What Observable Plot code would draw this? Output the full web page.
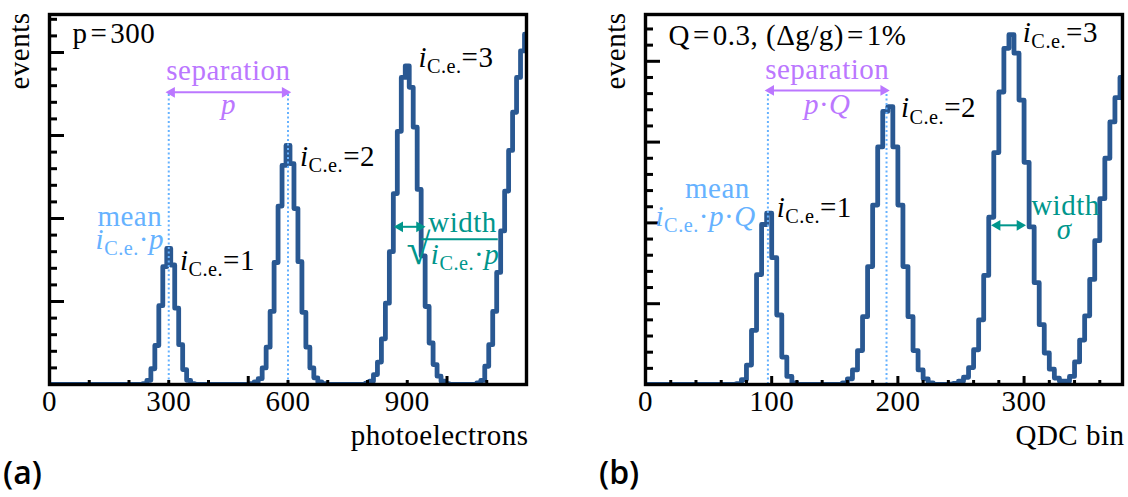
<!DOCTYPE html>
<html><head><meta charset="utf-8">
<script src="https://cdn.jsdelivr.net/npm/d3@7"></script>
<script src="https://cdn.jsdelivr.net/npm/@observablehq/plot@0.6"></script>
<style>
body{margin:0;background:#fff;width:1128px;height:497px;overflow:hidden;position:relative}
#a,#b{position:absolute;top:0;width:564px;height:440px}
#a{left:0}#b{left:596px}
#a svg,#b svg{max-width:none!important;display:block}
.tag{position:absolute;top:451px;font-family:"Open Sans",sans-serif;font-weight:600;font-size:32px;color:#000;line-height:42px}
</style></head><body>
<div id="a"></div><div id="b"></div>
<div class="tag" style="left:3px">(a)</div>
<div class="tag" style="left:599px">(b)</div>
<script>
// ---------------- data: panel (a) photoelectrons, bins of 10, centre = index*10
const binWidthA = 10;
const countsA = [
 0,0,0,0,0,0,0,0,0,0, 0,0,0,0,0,0,0,0,0,0, 0,0,0,0,0.01,0.05,0.19,0.47,0.95,1.42,
 1.64,1.44,0.92,0.48,0.18,0.05,0.01,0,0,0, 0,0,0,0,0,0,0,0,0,0,
 0,0.01,0.03,0.07,0.20,0.45,0.88,1.47,2.15,2.64, 2.88,2.66,2.12,1.48,0.87,0.45,0.20,0.08,0.03,0.01,
 0,0,0,0,0,0,0,0,0,0, 0.015,0.04,0.12,0.27,0.55,0.98,1.60,2.30,3.05,3.70,
 3.84,3.58,3.10,2.35,1.55,0.94,0.50,0.24,0.10,0.04, 0.01,0,0,0,0,0,0,0,0.02,0.05,
 0.22,0.48,0.88,1.35,1.85,2.33,2.82,3.28,3.70,4.02, 4.22
];
const tickLabelsA = [0, 300, 600, 900];
const meansA = [300, 600];
// ---------------- data: panel (b) QDC bins, bins of 4, centre = index*4+2
const binWidthB = 4;
const countsB = [
 0,0,0,0,0,0,0,0,0,0, 0,0,0,0,0,0,0,0,0.01,0.06,
 0.24,0.67,1.36,1.98,2.12,1.57,0.86,0.34,0.10,0.02, 0,0,0,0,0,0,0,0,0,0.02,
 0.07,0.18,0.42,0.84,1.46,2.22,2.94,3.38,3.44,2.94, 2.22,1.46,0.84,0.42,0.18,0.07,0.02,0,0,0,
 0.005,0.014,0.04,0.09,0.21,0.43,0.80,1.35,2.07,2.87, 3.62,4.16,4.33,4.10,3.52,2.75,1.95,1.26,0.74,0.39,
 0.19,0.08,0.04,0.04,0.10,0.28,0.55,0.85,1.30,1.78, 2.30,2.80,3.25,3.55,3.80
];
const tickLabelsB = [0, 100, 200, 300];
const meansB = [97, 191];

// ---------------- style
const SERIF = "Liberation Serif";
const BLUE = "#295892", LIGHT = "#66b2ff", PURPLE = "#bb77ff", TEAL = "#00968c";
const FS = 29;
const W = 564, H = 440, ML = 49, MR = 38, MT = 14, MB = 56;
const FW = W - ML - MR, FH = H - MT - MB;
const HS = "\u200A"; // hair space around "="

const RICH = {
  "iC.e.=1": [["i","it"],["C.e.","sub"],["=1",""]],
  "iC.e.=2": [["i","it"],["C.e.","sub"],["=2",""]],
  "iC.e.=3": [["i","it"],["C.e.","sub"],["=3",""]],
  "iC.e.·p": [["i","it"],["C.e.","sub"],["·",""],["p","it"]],
  "iC.e.·p·Q": [["i","it"],["C.e.","sub"],["·",""],["p","it"],["·",""],["Q","it"]],
  "√iC.e.·p": [["√","big"],["i","it"],["C.e.","sub"],["·",""],["p","it"]],
  "p·Q": [["p","it"],["·",""],["Q","it"]]
};
function richify(svg){
  const NS = "http://www.w3.org/2000/svg";
  for (const t of svg.querySelectorAll("text")) {
    const segs = RICH[t.textContent];
    if (!segs) continue;
    t.textContent = "";
    let inSub = false;
    for (const [s, kind] of segs) {
      const ts = document.createElementNS(NS, "tspan");
      ts.textContent = s;
      if (kind === "it") ts.setAttribute("font-style", "italic");
      if (kind === "big") { ts.setAttribute("font-size", "150%"); ts.setAttribute("font-weight", "bold"); }
      if (kind === "sub") {
        ts.setAttribute("font-size", "70%");
        if (!inSub) { ts.setAttribute("dy", "0.3em"); inSub = true; }
      } else if (inSub) { ts.setAttribute("dy", "-0.21em"); inSub = false; }
      t.appendChild(ts);
    }
  }
}
function histPoints(counts, w, offset){
  const pts = counts.map((c, i) => ({x: offset + i * w - w / 2, y: c}));
  pts.push({x: offset + (counts.length - 1) * w + w / 2, y: counts[counts.length - 1]});
  return pts;
}
function yTicks(top){
  const all = d3.range(1, Math.floor(top / 0.2) + 1).map(k => +(k * 0.2).toFixed(2));
  return {major: all.filter((v, k) => (k + 1) % 5 === 0), minor: all.filter((v, k) => (k + 1) % 5 !== 0)};
}
function txt(items, opts){
  return Plot.text(items, {x: "x", y: "y", text: "t", fontFamily: SERIF, fontSize: FS, lineAnchor: "middle", ...opts});
}
// double-headed arrow with filled triangular heads
function dblArrow(a, color){
  return [
    Plot.link([a], {x1: "x1", x2: "x2", y1: "y", y2: "y", stroke: color, strokeWidth: 2}),
    Plot.dot([a], {x: "x1", y: "y", symbol: "triangle", r: 4, rotate: -90, dx: 3, fill: color, stroke: "none"}),
    Plot.dot([a], {x: "x2", y: "y", symbol: "triangle", r: 4, rotate: 90, dx: -3, fill: color, stroke: "none"})
  ];
}
function common(xMajor, xMinor, yMax, tickLabels, xLabel){
  const yt = yTicks(yMax);
  return [
    Plot.tickY(yt.major, {y: d => d, stroke: "black", strokeWidth: 3, insetRight: FW - 15}),
    Plot.tickY(yt.minor, {y: d => d, stroke: "black", strokeWidth: 3, insetRight: FW - 8}),
    Plot.tickX(xMajor, {x: d => d, stroke: "black", strokeWidth: 3, insetTop: FH - 8}),
    Plot.tickX(xMinor, {x: d => d, stroke: "black", strokeWidth: 3, insetTop: FH - 4}),
    Plot.frame({stroke: "black", strokeWidth: 3.4}),
    Plot.axisX(tickLabels, {tickSize: 0, tickPadding: 6, fontSize: FS, fontFamily: SERIF, label: null}),
    Plot.text([xLabel], {frameAnchor: "bottom-right", dy: 51, dx: 2, textAnchor: "end", lineAnchor: "middle", fontSize: FS, fontFamily: SERIF}),
    Plot.text(["events"], {frameAnchor: "top-left", dx: -29.5, dy: -2, rotate: -90, textAnchor: "end", lineAnchor: "middle", fontSize: FS, fontFamily: SERIF})
  ];
}
const style = {fontFamily: SERIF, fontSize: FS + "px", letterSpacing: "0.5px", background: "white", overflow: "visible", maxWidth: "none"};

// ---------------- panel (a)
const yMaxA = FH / 83, xMaxA = 1200;
const plotA = Plot.plot({
  width: W, height: H, marginLeft: ML, marginRight: MR, marginTop: MT, marginBottom: MB, style,
  x: {domain: [0, xMaxA], axis: null}, y: {domain: [0, yMaxA], axis: null},
  marks: [
    Plot.line(histPoints(countsA, binWidthA, 0), {x: "x", y: "y", curve: "step-after", stroke: BLUE, strokeWidth: 4.8, clip: true}),
    Plot.ruleX(meansA, {x: d => d, y1: 0, y2: 3.52, stroke: LIGHT, strokeWidth: 2, strokeDasharray: "2,2.5"}),
    ...dblArrow({x1: meansA[0], x2: meansA[1], y: 3.52}, PURPLE),
    ...dblArrow({x1: 874, x2: 938, y: 1.90}, TEAL),
    Plot.ruleY([{y: 1.75, x1: 937, x2: 1129}], {y: "y", x1: "x1", x2: "x2", stroke: TEAL, strokeWidth: 2}),
    ...common([500, 1000], d3.range(100, 1200, 100).filter(v => v % 500), yMaxA, tickLabelsA, "photoelectrons"),
    txt([{t: `p${HS}=${HS}300`, x: 58, y: 4.23}], {textAnchor: "start"}),
    txt([{t: "separation", x: 450, y: 3.78}], {fill: PURPLE}),
    txt([{t: "p", x: 450, y: 3.37}], {fill: PURPLE, fontStyle: "italic"}),
    txt([{t: "mean", x: 202, y: 2.02}], {fill: LIGHT}),
    txt([{t: "iC.e.·p", x: 202, y: 1.74}], {fill: LIGHT}),
    txt([{t: "iC.e.=1", x: 328, y: 1.49}, {t: "iC.e.=2", x: 630, y: 2.75}, {t: "iC.e.=3", x: 928, y: 3.94}], {textAnchor: "start"}),
    txt([{t: "width", x: 953, y: 1.95}], {fill: TEAL, textAnchor: "start"}),
    txt([{t: "√iC.e.·p", x: 898, y: 1.56}], {fill: TEAL, textAnchor: "start"})
  ]
});
richify(plotA);
document.getElementById("a").appendChild(plotA);

// ---------------- panel (b)
const yMaxB = FH / 80.8, xMaxB = 378;
const plotB = Plot.plot({
  width: W, height: H, marginLeft: ML, marginRight: MR, marginTop: MT, marginBottom: MB, style,
  x: {domain: [0, xMaxB], axis: null}, y: {domain: [0, yMaxB], axis: null},
  marks: [
    Plot.line(histPoints(countsB, binWidthB, 2), {x: "x", y: "y", curve: "step-after", stroke: BLUE, strokeWidth: 4.8, clip: true}),
    Plot.ruleX(meansB, {x: d => d, y1: 0, y2: 3.64, stroke: LIGHT, strokeWidth: 2, strokeDasharray: "2,2.5"}),
    ...dblArrow({x1: meansB[0], x2: meansB[1], y: 3.64}, PURPLE),
    ...dblArrow({x1: 276.4, x2: 299, y: 1.97}, TEAL),
    ...common([100, 200, 300], d3.range(20, 378, 20).filter(v => v % 100), yMaxB, tickLabelsB, "QDC bin"),
    txt([{t: `Q${HS}=${HS}0.3, (Δg/g)${HS}=${HS}1%`, x: 18.3, y: 4.32}], {textAnchor: "start"}),
    txt([{t: "separation", x: 144, y: 3.89}], {fill: PURPLE}),
    txt([{t: "p·Q", x: 144, y: 3.46}], {fill: PURPLE}),
    txt([{t: "mean", x: 57, y: 2.42}], {fill: LIGHT}),
    txt([{t: "iC.e.·p·Q", x: 47.6, y: 2.08}], {fill: LIGHT}),
    txt([{t: "iC.e.=1", x: 104, y: 2.19}, {t: "iC.e.=2", x: 202.4, y: 3.42}, {t: "iC.e.=3", x: 299, y: 4.35}], {textAnchor: "start"}),
    txt([{t: "width", x: 305.6, y: 2.21}], {fill: TEAL, textAnchor: "start"}),
    txt([{t: "σ", x: 331.7, y: 1.91}], {fill: TEAL, fontStyle: "italic"})
  ]
});
richify(plotB);
document.getElementById("b").appendChild(plotB);
</script>
</body></html>
